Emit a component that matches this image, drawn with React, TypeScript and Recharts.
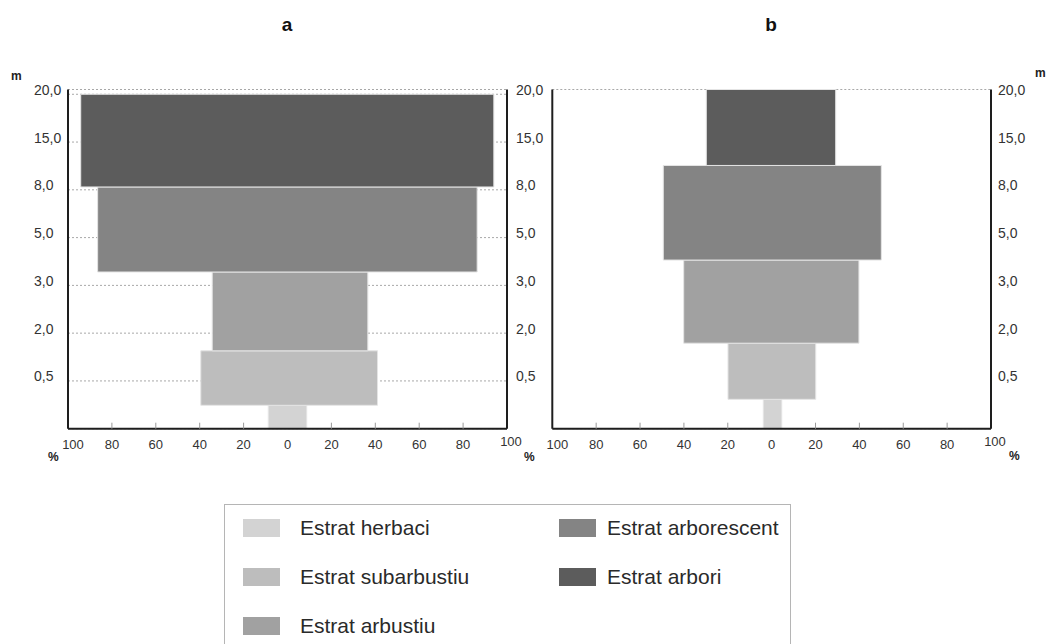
import React from 'react';
import { ComposedChart, XAxis, YAxis, CartesianGrid, ReferenceArea } from 'recharts';

// ---- data ----
const heightTicks = [1, 2, 3, 4, 5, 6, 7];
const heightLabels = ['0,5', '2,0', '3,0', '5,0', '8,0', '15,0', '20,0'];
const percentTicks = [-100, -80, -60, -40, -20, 0, 20, 40, 60, 80, 100];
const strata = ['Estrat herbaci', 'Estrat subarbustiu', 'Estrat arbustiu', 'Estrat arborescent', 'Estrat arbori'];

// panel a: vertical extent (axis level units) and cover (%) to the left / right
const aLevelFrom = [0, 0.49, 1.63, 3.28, 5.06];
const aLevelTo = [0.49, 1.63, 3.28, 5.06, 7.0];
const aCoverLeft = [8.75, 39.5, 34.3, 86.5, 94.2];
const aCoverRight = [8.75, 41.0, 36.6, 86.4, 94.0];

// panel b
const bLevelFrom = [0, 0.615, 1.79, 3.53, 5.51];
const bLevelTo = [0.615, 1.79, 3.53, 5.51, 7.1];
const bCoverLeft = [3.8, 19.9, 40.1, 49.4, 29.8];
const bCoverRight = [4.6, 20.1, 39.8, 50.0, 29.2];

const strataColors = ['#d3d3d3', '#bdbdbd', '#a1a1a1', '#848484', '#5c5c5c'];
const FONT = '"Liberation Sans", Arial, Helvetica, sans-serif';

const XTick = (props: any) => {
  const { x, y, payload } = props;
  const v = payload.value;
  const isEnd = Math.abs(v) === 100;
  const dx = v === -100 ? 5 : v === 100 ? 4 : 0;
  const dy = v === 100 ? -3 : 0;
  return (
    <g>
      {!isEnd && v !== 0 && <line x1={x} x2={x} y1={y - 6} y2={y} stroke="#9a9a9a" strokeWidth={1} />}
      <text x={x + dx} y={y + 16 + dy} textAnchor="middle" dominantBaseline="central" fontSize={13} fill="#333" fontFamily={FONT}>
        {Math.abs(v)}
      </text>
    </g>
  );
};

const YTick = (props: any) => {
  const { x, y, payload } = props;
  return (
    <text x={x} y={y - 4.5} textAnchor="start" dominantBaseline="central" fontSize={14} fill="#333" fontFamily={FONT}>
      {heightLabels[payload.value - 1]}
    </text>
  );
};

type PanelProps = {
  from: number[];
  to: number[];
  left: number[];
  right: number[];
  withLeftLabels: boolean;
  width: number;
  margin: { top: number; right: number; bottom: number; left: number };
  leftWidth: number;
  rightMargin: number;
};

const Panel = ({ from, to, left, right, withLeftLabels, width, margin, leftWidth, rightMargin }: PanelProps) => (
  <ComposedChart width={width} height={480} margin={margin} data={[]}>
    <CartesianGrid yAxisId="l" vertical={false} horizontal stroke="#a8a8a8" strokeDasharray="2 2" />
    <XAxis
      type="number"
      dataKey="x"
      domain={[-100, 100]}
      ticks={percentTicks}
      interval={0}
      height={30}
      tickSize={0}
      tickMargin={0}
      tickLine={false}
      axisLine={{ stroke: '#1e1e1e', strokeWidth: 2 }}
      tick={<XTick />}
      allowDataOverflow
    />
    <YAxis
      yAxisId="l"
      type="number"
      domain={[0, 7.1]}
      ticks={heightTicks}
      interval={0}
      width={leftWidth}
      tickSize={0}
      tickMargin={34}
      tickLine={false}
      axisLine={{ stroke: '#1e1e1e', strokeWidth: 2 }}
      tick={withLeftLabels ? <YTick /> : false}
      allowDataOverflow
    />
    <YAxis
      yAxisId="r"
      orientation="right"
      type="number"
      domain={[0, 7.1]}
      ticks={heightTicks}
      interval={0}
      width={45}
      tickSize={0}
      tickMargin={rightMargin}
      tickLine={false}
      axisLine={{ stroke: '#1e1e1e', strokeWidth: 2 }}
      tick={<YTick />}
      allowDataOverflow
    />
    {strata.map((s, i) => (
      <ReferenceArea
        key={s}
        yAxisId="l"
        x1={-left[i]}
        x2={right[i]}
        y1={from[i]}
        y2={to[i]}
        fill={strataColors[i]}
        fillOpacity={1}
        stroke="#e4e4e4"
        strokeWidth={1}
        ifOverflow="visible"
      />
    ))}
  </ComposedChart>
);

const abs = (style: React.CSSProperties): React.CSSProperties => ({ position: 'absolute', fontFamily: FONT, ...style });

export default function App() {
  const legendRows = [
    { i: 0, col: 0, row: 0 },
    { i: 1, col: 0, row: 1 },
    { i: 2, col: 0, row: 2 },
    { i: 3, col: 1, row: 0 },
    { i: 4, col: 1, row: 1 },
  ];
  return (
    <div style={{ position: 'absolute', left: 0, top: 0, width: 1047, height: 644, background: '#fff', overflow: 'hidden' }}>
      <div style={abs({ left: 0, top: 0 })}>
        <Panel
          from={aLevelFrom}
          to={aLevelTo}
          left={aCoverLeft}
          right={aCoverRight}
          withLeftLabels
          width={560}
          margin={{ top: 89.5, right: 8, bottom: 21.3, left: 8 }}
          leftWidth={60}
          rightMargin={9}
        />
      </div>
      <div style={abs({ left: 500, top: 0 })}>
        <Panel
          from={bLevelFrom}
          to={bLevelTo}
          left={bCoverLeft}
          right={bCoverRight}
          withLeftLabels={false}
          width={547}
          margin={{ top: 89.5, right: 11, bottom: 21.3, left: 51.3 }}
          leftWidth={1}
          rightMargin={7}
        />
      </div>

      <div style={abs({ left: 267, top: 14, width: 40, textAlign: 'center', fontSize: 19, fontWeight: 'bold', color: '#111', lineHeight: '22px' })}>a</div>
      <div style={abs({ left: 751, top: 14, width: 40, textAlign: 'center', fontSize: 19, fontWeight: 'bold', color: '#111', lineHeight: '22px' })}>b</div>

      <div style={abs({ left: 11, top: 68, fontSize: 12, fontWeight: 'bold', color: '#222', lineHeight: '16px' })}>m</div>
      <div style={abs({ left: 1035, top: 65, fontSize: 12, fontWeight: 'bold', color: '#222', lineHeight: '16px' })}>m</div>

      <div style={abs({ left: 48, top: 449, fontSize: 12, fontWeight: 'bold', color: '#222', lineHeight: '16px' })}>%</div>
      <div style={abs({ left: 524, top: 449, fontSize: 12, fontWeight: 'bold', color: '#222', lineHeight: '16px' })}>%</div>
      <div style={abs({ left: 1009, top: 448, fontSize: 12, fontWeight: 'bold', color: '#222', lineHeight: '16px' })}>%</div>

      <div style={abs({ left: 224, top: 504, width: 567, height: 160, border: '1px solid #b5b5b5', boxSizing: 'border-box' })} />
      {legendRows.map(({ i, col, row }) => (
        <React.Fragment key={strata[i]}>
          <div
            style={abs({
              left: col === 0 ? 243 : 559,
              top: 519 + row * 49,
              width: 37,
              height: 18,
              background: strataColors[i],
            })}
          />
          <div
            style={abs({
              left: col === 0 ? 300 : 607,
              top: 516 + row * 49,
              fontSize: 21,
              lineHeight: '24px',
              color: '#2a2a2a',
              whiteSpace: 'nowrap',
            })}
          >
            {strata[i]}
          </div>
        </React.Fragment>
      ))}
    </div>
  );
}
